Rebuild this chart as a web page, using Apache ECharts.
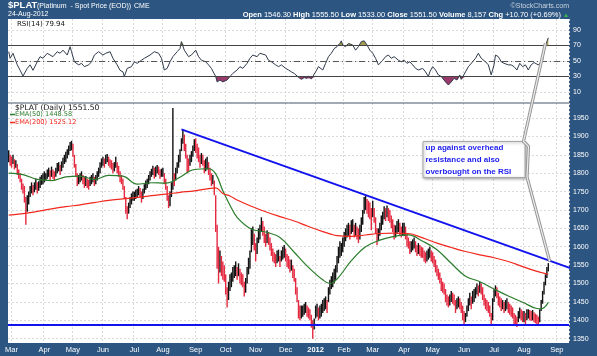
<!DOCTYPE html>
<html><head><meta charset="utf-8">
<script src="https://cdn.jsdelivr.net/npm/echarts@6/dist/echarts.min.js"></script>
<style>html,body{margin:0;padding:0;background:#2c5581}#c{width:597px;height:356px}</style>
</head><body><div id="c"></div>
<script>
// ---------- categories: trading days (weekends + exchange holidays skipped) ----------
const holidays = ['2011-04-22','2011-05-30','2011-07-04','2011-09-05','2011-11-24','2011-12-26',
  '2012-01-02','2012-01-16','2012-02-20','2012-04-06','2012-05-28','2012-07-04','2012-09-03'];
const days = [];
for (let d = new Date(Date.UTC(2011,1,25)); d <= new Date(Date.UTC(2012,8,14)); d.setUTCDate(d.getUTCDate()+1)) {
  const wd = d.getUTCDay(); if (wd === 0 || wd === 6) continue;
  const s = d.toISOString().slice(0,10); if (holidays.includes(s)) continue;
  days.push(s);
}
const monthNames = ['Jan','Feb','Mar','Apr','May','Jun','Jul','Aug','Sep','Oct','Nov','Dec'];

// ---------- daily price bars [low, high] ----------
const feb11 = [[1830,1862],[1820,1850]];
const mar11 = [[1815,1845],[1825,1850],[1810,1838],[1815,1835],[1795,1825],[1785,1810],[1775,1800],[1755,1785],[1745,1772],[1720,1765],[1660,1735],[1695,1740],[1715,1750],[1735,1765],[1745,1775],[1740,1768],[1748,1775],[1755,1785],[1745,1775],[1752,1778],[1760,1790],[1768,1795],[1770,1800]];
const apr11 = [[1775,1805],[1780,1800],[1785,1810],[1790,1815],[1780,1808],[1790,1818],[1785,1810],[1780,1805],[1790,1815],[1800,1828],[1805,1830],[1795,1822],[1805,1832],[1815,1842],[1825,1850],[1830,1858],[1840,1865],[1850,1875],[1860,1885],[1862,1888]];
const may11 = [[1845,1880],[1815,1850],[1790,1825],[1765,1800],[1770,1795],[1775,1800],[1780,1805],[1770,1795],[1760,1790],[1765,1792],[1760,1785],[1755,1782],[1765,1790],[1770,1795],[1775,1800],[1765,1790],[1770,1795],[1780,1805],[1790,1815],[1800,1830],[1815,1840]];
const jun11 = [[1820,1845],[1815,1840],[1825,1850],[1830,1852],[1820,1845],[1815,1838],[1810,1835],[1800,1828],[1805,1830],[1815,1845],[1800,1830],[1790,1820],[1775,1805],[1770,1795],[1755,1785],[1730,1765],[1690,1735],[1675,1710],[1690,1720],[1705,1735],[1715,1745],[1725,1750]];
const jul11 = [[1725,1750],[1730,1755],[1735,1758],[1740,1765],[1735,1760],[1720,1750],[1730,1758],[1745,1770],[1755,1780],[1760,1785],[1770,1795],[1780,1805],[1790,1812],[1795,1820],[1785,1815],[1790,1818],[1800,1822],[1795,1818],[1785,1810],[1790,1812]];
const aug11 = [[1790,1815],[1770,1800],[1755,1785],[1725,1765],[1705,1740],[1710,1750],[1735,1775],[1755,1977],[1765,1800],[1780,1815],[1800,1830],[1815,1850],[1830,1865],[1860,1895],[1880,1918],[1860,1905],[1840,1880],[1800,1850],[1805,1840],[1820,1850],[1830,1860],[1845,1875],[1860,1892]];
const sep11 = [[1855,1895],[1840,1880],[1830,1870],[1815,1850],[1825,1855],[1820,1850],[1800,1835],[1805,1840],[1810,1845],[1795,1830],[1780,1815],[1765,1800],[1770,1795],[1740,1780],[1640,1740],[1540,1660],[1500,1600],[1530,1590],[1520,1575],[1510,1560],[1505,1550]];
const oct11 = [[1470,1525],[1435,1490],[1455,1505],[1480,1525],[1490,1530],[1505,1545],[1515,1550],[1520,1560],[1510,1545],[1520,1555],[1500,1540],[1495,1530],[1490,1525],[1465,1505],[1475,1515],[1500,1545],[1525,1570],[1540,1590],[1585,1650],[1605,1655],[1590,1635]];
const nov11 = [[1560,1610],[1580,1625],[1610,1650],[1620,1660],[1640,1680],[1630,1670],[1610,1655],[1600,1635],[1610,1645],[1605,1640],[1590,1625],[1575,1610],[1560,1595],[1555,1585],[1545,1580],[1555,1590],[1560,1592],[1545,1575],[1560,1590],[1565,1600],[1570,1605]];
const dec11 = [[1560,1595],[1545,1580],[1540,1575],[1530,1565],[1535,1565],[1515,1550],[1505,1540],[1470,1515],[1450,1490],[1405,1455],[1400,1440],[1405,1440],[1410,1440],[1415,1445],[1420,1450],[1410,1440],[1405,1435],[1400,1430],[1380,1415],[1350,1400],[1375,1405]];
const jan12 = [[1405,1440],[1410,1445],[1400,1435],[1405,1440],[1410,1445],[1420,1455],[1425,1460],[1430,1465],[1420,1455],[1450,1490],[1470,1510],[1485,1520],[1490,1530],[1500,1540],[1510,1550],[1530,1575],[1555,1600],[1570,1615],[1575,1610],[1585,1625]];
const feb12 = [[1600,1640],[1615,1650],[1625,1660],[1630,1665],[1620,1660],[1635,1672],[1640,1675],[1625,1660],[1630,1665],[1620,1655],[1610,1650],[1620,1660],[1640,1680],[1660,1700],[1690,1735],[1700,1740],[1690,1730],[1680,1725],[1675,1720],[1645,1705]];
const mar12 = [[1680,1725],[1665,1705],[1635,1680],[1605,1650],[1615,1650],[1630,1665],[1645,1685],[1660,1695],[1675,1710],[1670,1705],[1680,1712],[1670,1705],[1665,1700],[1650,1685],[1640,1675],[1620,1660],[1625,1658],[1635,1670],[1640,1675],[1630,1665],[1625,1655],[1630,1665]];
const apr12 = [[1630,1665],[1620,1655],[1600,1635],[1595,1625],[1580,1615],[1585,1615],[1590,1620],[1595,1625],[1585,1615],[1575,1605],[1580,1610],[1575,1605],[1570,1600],[1570,1598],[1560,1590],[1555,1585],[1560,1590],[1565,1595],[1570,1600],[1560,1590]];
const may12 = [[1555,1585],[1545,1575],[1530,1565],[1520,1550],[1510,1540],[1500,1530],[1480,1515],[1475,1505],[1470,1500],[1450,1485],[1440,1470],[1435,1465],[1440,1470],[1450,1480],[1445,1475],[1440,1470],[1420,1455],[1430,1460],[1435,1465],[1430,1460],[1420,1450],[1400,1440]];
const jun12 = [[1390,1425],[1395,1420],[1410,1440],[1425,1460],[1440,1475],[1430,1465],[1445,1480],[1450,1485],[1460,1490],[1470,1500],[1465,1495],[1475,1505],[1470,1500],[1455,1490],[1440,1470],[1430,1460],[1425,1455],[1420,1450],[1410,1440],[1390,1420],[1400,1460]];
const jul12 = [[1450,1485],[1465,1495],[1460,1490],[1440,1475],[1435,1465],[1425,1460],[1430,1455],[1420,1450],[1425,1455],[1430,1460],[1420,1450],[1415,1445],[1410,1440],[1405,1435],[1390,1420],[1385,1415],[1382,1410],[1395,1425],[1405,1435],[1400,1430],[1395,1425]];
const aug12 = [[1395,1425],[1390,1420],[1400,1430],[1405,1430],[1400,1428],[1398,1425],[1400,1428],[1395,1422],[1392,1418],[1388,1415],[1390,1410],[1395,1430],[1425,1455],[1445,1480],[1470,1505],[1495,1525],[1515,1545],[1533,1555.5]];
const priceBars = [].concat(feb11,mar11,apr11,may11,jun11,jul11,aug11,sep11,oct11,nov11,dec11,jan12,feb12,mar12,apr12,may12,jun12,jul12,aug12);

// ---------- moving averages, read every ~10 trading days (trading-day index) ----------
const emaDays = [0,10,20,30,40,50,60,70,80,90,100,110,120,130,140,145,150,155,160,170,180,190,200,210,220,225,230,240,250,260,270,280,290,300,310,320,330,340,350,360,370,373,378];
const ema50  = [1800,1796,1783,1780,1790,1792,1783,1794,1792,1770,1774,1773,1789,1810,1812,1798,1752,1713,1680,1648,1640,1625,1585,1544,1510,1500,1512,1562,1600,1618,1628,1632,1615,1592,1555,1520,1505,1485,1466,1449,1432,1431,1448.58];
const ema200 = [1686,1690,1696,1703,1709,1714,1720,1726,1730,1734,1739,1743,1748,1752,1758,1760,1745,1738,1727,1710,1695,1682,1670,1655,1641,1635,1630,1628,1632,1636,1637,1636,1624,1610,1598,1587,1578,1570,1560,1546,1533,1530,1525.12];

// ---------- RSI(14): [trading-day index, value] ----------
const rsi = [[0,62],[1,53.5],[3,60],[6,45],[8,38],[10,30.6],[13,40.5],[15,45],[17,38],[20,49],[22,55.6],[24,53.5],[27,60],[29,57.7],[31,55.6],[34,62],[36,60],[38,64],[41,57.7],[43,68.5],[44,62],[46,49],[49,45],[51,47],[53,42.7],[56,45],[58,49],[60,57.7],[63,62],[66,57.7],[68,60],[71,62],[73,53.5],[76,45],[78,38],[80,36],[81,30],[83,40.5],[86,42.7],[88,49],[90,47],[93,51],[95,53.5],[99,57.7],[102,62],[105,60],[107,53.5],[109,38.4],[111,40.5],[113,49],[115,55.6],[118,62],[120,66],[121,75],[123,64],[126,55.6],[128,57.7],[131,64],[133,55.6],[135,51],[138,49],[140,45],[142,40.5],[145,30],[146,23],[148,25.5],[150,23],[153,25.5],[155,30],[157,34],[160,38.4],[162,42.7],[164,40.5],[167,47],[169,53.5],[171,57.7],[174,55.6],[176,60],[177,62],[180,57.7],[182,51],[184,49],[187,45],[189,42.7],[191,45],[194,40.5],[196,38.4],[198,36],[200,34],[203,29],[205,26.3],[207,28.5],[209,27.6],[210,30.6],[212,27],[213,25.5],[215,36],[217,42.7],[218,40.5],[220,38.4],[222,47],[224,55.6],[226,60],[228,66],[230,68.5],[232,72.7],[233,76],[234,70.6],[236,68.5],[238,72.7],[239,75],[241,70.6],[243,64],[245,68.5],[247,75],[249,76],[251,70.6],[253,64],[255,60],[257,53.5],[259,45],[260,47],[262,51],[264,55.6],[266,57.7],[268,53.5],[270,55.6],[273,51],[275,49],[277,51],[279,47],[281,49],[283,45],[285,40.5],[287,38.4],[290,40.5],[292,36],[294,30],[295,36],[297,42.7],[299,38.4],[301,32],[303,30],[304,27.6],[306,23],[308,19],[310,23],[312,27.6],[314,25.5],[316,32],[317,26.3],[320,36],[322,42.7],[323,40.5],[325,49],[327,53.5],[329,60],[331,53.5],[334,49],[336,45],[338,32],[340,45],[341,57.7],[343,55.6],[345,49],[347,47],[350,45],[352,45],[354,42.7],[356,38.4],[358,47],[360,42.7],[362,45],[364,38.4],[366,45],[368,48],[371,45],[372,42.7],[374,51],[375,62],[376,70],[377,75],[378,79.94]];

// ---------- trend lines: [trading-day index, price] ----------
const resistance = [[121,1919],[397,1537]];
const support = 1389;

// ---------- axis tick labels ----------
const rsiTicks = [10,30,50,70,90];
const priceTicks = [1350,1400,1450,1500,1550,1600,1650,1700,1750,1800,1850,1900,1950];

// ---------- build ----------
const isMonthStart = (i) => i > 0 && days[i].slice(5,7) !== days[i-1].slice(5,7);
const fmtMonth = (v) => { const m = +v.slice(5,7); return m === 1 ? '{y|' + v.slice(0,4) + '}' : monthNames[m-1]; };
// [index, low, high, upFlag] ; colour: black if the bar moved up versus the prior bar, red otherwise
const barData = priceBars.map((b,k) => {
  const p = k ? priceBars[k-1] : b;
  return [k, b[0], b[1], (b[0]+b[1]) >= (p[0]+p[1]) ? 1 : 0];
});
const FF = '"Liberation Sans", Arial, sans-serif';
const grid = { color:'#dadada', width:1, type:[2,2] };

const chart = echarts.init(document.getElementById('c'), null, {renderer:'canvas'});
chart.setOption({
  backgroundColor: '#2c5581',
  animation: false,
  textStyle: { fontFamily: FF },
  grid: [
    { left:8, right:28, top:19, height:84, show:true, backgroundColor:'#fff', borderWidth:0 },
    { left:8, right:28, top:103, height:240, show:true, backgroundColor:'#fff', borderWidth:0 }
  ],
  xAxis: [
    { type:'category', gridIndex:0, data:days, boundaryGap:true,
      axisLine:{show:false}, axisTick:{show:false}, axisLabel:{show:false},
      splitLine:{show:true, interval:(i)=>isMonthStart(i), lineStyle:grid} },
    { type:'category', gridIndex:1, data:days, boundaryGap:true,
      axisLine:{show:false}, axisTick:{show:false},
      axisLabel:{show:true, interval:(i)=>isMonthStart(i), formatter:fmtMonth, color:'#fff', fontSize:7.5, margin:3,
        rich:{ y:{ fontWeight:'bold', color:'#fff', fontSize:7.5 } } },
      splitLine:{show:true, interval:(i)=>isMonthStart(i), lineStyle:grid} }
  ],
  yAxis: [
    { type:'value', gridIndex:0, position:'right', min:-4.2, max:104.2,
      axisLine:{show:false}, axisTick:{show:false, customValues:rsiTicks},
      axisLabel:{customValues:rsiTicks, formatter:(v)=>String(v), color:'#fff', fontSize:7, margin:4},
      splitLine:{show:true, lineStyle:grid} },
    { type:'value', gridIndex:1, position:'right', min:1338.3, max:1990.8,
      axisLine:{show:false}, axisTick:{show:false, customValues:priceTicks},
      axisLabel:{customValues:priceTicks, formatter:(v)=>String(v), color:'#fff', fontSize:7, margin:4},
      splitLine:{show:true, lineStyle:grid} }
  ],
  series: [
    { type:'line', xAxisIndex:0, yAxisIndex:0, silent:true, symbol:'none', z:2,
      data: rsi.map(p => [p[0], Math.max(p[1],70)]),
      lineStyle:{width:0}, areaStyle:{origin:70, color:'#a49d50', opacity:1} },
    { type:'line', xAxisIndex:0, yAxisIndex:0, silent:true, symbol:'none', z:2,
      data: rsi.map(p => [p[0], Math.min(p[1],30)]),
      lineStyle:{width:0}, areaStyle:{origin:30, color:'#9a3a6c', opacity:1} },
    { type:'line', xAxisIndex:0, yAxisIndex:0, silent:true, symbol:'none', z:4,
      data: rsi, lineStyle:{color:'#2f3b4b', width:1},
      markLine:{ silent:true, symbol:'none', label:{show:false},
        data:[ {yAxis:70, lineStyle:{color:'#444', width:1, type:'solid'}},
               {yAxis:30, lineStyle:{color:'#444', width:1, type:'solid'}},
               {yAxis:50, lineStyle:{color:'#555', width:1, type:[6,3,1,3]}} ] } },
    { type:'custom', xAxisIndex:1, yAxisIndex:1, silent:true, clip:false, z:3,
      data: barData, encode:{ x:0, y:[1,2] },
      renderItem: (params, api) => {
        const pLo = api.coord([api.value(0), api.value(1)]);
        const pHi = api.coord([api.value(0), api.value(2)]);
        return { type:'rect', shape:{ x:pLo[0] - 0.7, y:pHi[1], width:1.4, height:Math.max(1, pLo[1]-pHi[1]) },
                 style:{ fill: api.value(3) ? '#111' : '#e5283f' } };
      },
      markLine:{ silent:true, symbol:'none', label:{show:false},
        data:[ {yAxis:support, lineStyle:{color:'#1212ee', width:2, type:'solid'}} ] } },
    { type:'line', xAxisIndex:1, yAxisIndex:1, silent:true, symbol:'none', smooth:0.4, z:5,
      data: emaDays.map((d,k) => [d, ema50[k]]), lineStyle:{color:'#2a7d2a', width:1.2} },
    { type:'line', xAxisIndex:1, yAxisIndex:1, silent:true, symbol:'none', smooth:0.4, z:5,
      data: emaDays.map((d,k) => [d, ema200[k]]), lineStyle:{color:'#f0281e', width:1.2} },
    { type:'line', xAxisIndex:1, yAxisIndex:1, silent:true, symbol:'none', clip:false, z:6,
      data: resistance, lineStyle:{color:'#1212ee', width:2} }
  ]
});

// ---------- annotations ----------
const tipR = chart.convertToPixel({xAxisIndex:0, yAxisIndex:0}, [376, 73]);
const tipP = chart.convertToPixel({xAxisIndex:1, yAxisIndex:1}, [379, 1560]);
const callout = [tipR, [523.5,141.5], [528.5,146.5], [527,177], tipP];
const txt = (x, y, text, st) => ({ type:'text', x, y, silent:true, z:24,
  style: Object.assign({ text, fill:'#fff', fontSize:7.5, fontFamily:FF, verticalAlign:'middle' }, st) });
const g = [
  txt(8, 5.5, '$PLAT', {fontSize:9.5, fontWeight:'bold'}),
  txt(37, 6.5, '(Platinum  - Spot Price (EOD))', {fontSize:7}),
  txt(134, 6.5, 'CME', {fontSize:7}),
  txt(8, 14.5, '24-Aug-2012', {fontSize:7}),
  txt(561, 15, '{b|Open} 1546.30 {b|High} 1555.50 {b|Low} 1533.00 {b|Close} 1551.50 {b|Volume} 8,157 {b|Chg} +10.70 (+0.69%)',
      {align:'right', fontSize:7.5, rich:{ b:{fontWeight:'bold', fill:'#fff', fontSize:7.5, fontFamily:FF} }}),
  { type:'polygon', silent:true, z:20, shape:{points:[[564,17],[568,17],[566,13.5]]}, style:{fill:'#3cb44a'} },
  txt(569, 6, '\u00a9StockCharts.com', {align:'right', fill:'#c9d3df', fontSize:7}),
  txt(17, 24.2, 'RSI(14) 79.94', {fill:'#111', fontSize:7, fontFamily:'"DejaVu Sans", sans-serif'}),
  txt(15, 108.5, '$PLAT (Daily) 1551.50', {fill:'#111', fontSize:7.6, fontFamily:'"DejaVu Sans", sans-serif'}),
  { type:'line', silent:true, z:20, shape:{x1:10, y1:114.5, x2:15, y2:114.5}, style:{stroke:'#2a7d2a', lineWidth:1.5} },
  txt(15, 114.5, 'EMA(50) 1448.58', {fill:'#2a7d2a', fontSize:6.6, fontFamily:'"DejaVu Sans", sans-serif'}),
  { type:'line', silent:true, z:20, shape:{x1:10, y1:122.5, x2:15, y2:122.5}, style:{stroke:'#f0281e', lineWidth:1.5} },
  txt(15, 122.5, 'EMA(200) 1525.12', {fill:'#f0281e', fontSize:6.6, fontFamily:'"DejaVu Sans", sans-serif'}),
  { type:'line', silent:true, z:20, shape:{x1:8, y1:103, x2:569, y2:103}, style:{stroke:'#44556b', lineWidth:1} },
  { type:'rect', silent:true, z:21, shape:{x:423, y:141.5, width:102, height:36},
    style:{fill:'#fff', stroke:'#a8a8a8', lineWidth:1, shadowBlur:3, shadowOffsetX:1, shadowOffsetY:1, shadowColor:'rgba(0,0,0,0.35)'} },
  { type:'polyline', silent:true, z:22, shape:{points:callout}, style:{stroke:'#979797', lineWidth:3.2, fill:null} },
  { type:'polyline', silent:true, z:23, shape:{points:callout}, style:{stroke:'#ececec', lineWidth:1.2, fill:null} },
  txt(425.5, 148, 'up against overhead', {fill:'#1c1cf0', fontWeight:'bold', fontSize:8}),
  txt(425.5, 160, 'resistance and also', {fill:'#1c1cf0', fontWeight:'bold', fontSize:8}),
  txt(425.5, 171.5, 'overbought on the RSI', {fill:'#1c1cf0', fontWeight:'bold', fontSize:8})
];
if (priceBars.length !== 379 || days.length !== 393) g.push(txt(200, 200, 'COUNT ' + priceBars.length + ' ' + days.length, {fill:'#f00', fontSize:14}));
chart.setOption({ graphic: g });
</script></body></html>
